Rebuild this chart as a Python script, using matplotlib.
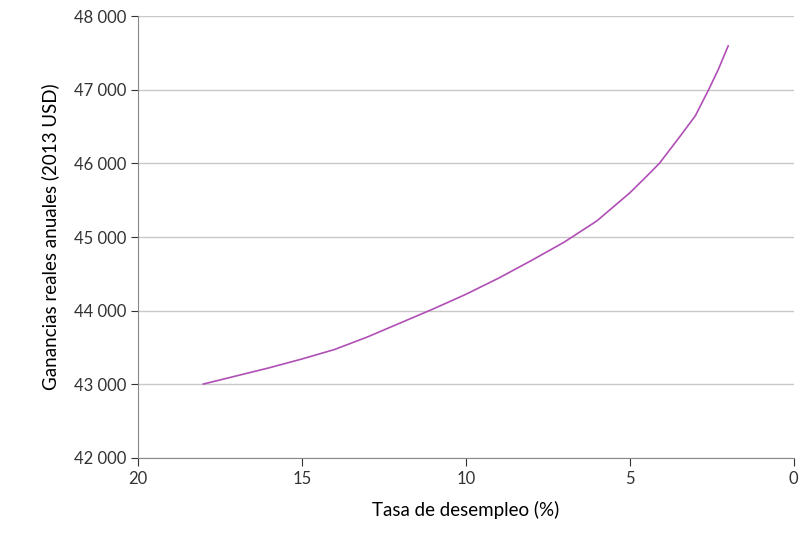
import matplotlib.pyplot as plt
import numpy as np

unemployment = [18.0, 17.0, 16.0, 15.0, 14.0, 13.0, 12.0, 11.0, 10.0, 9.0, 8.0, 7.0,
                6.0, 5.0, 4.5, 4.1, 3.5, 3.0, 2.6, 2.3, 2.0]
earnings = [43000, 43110, 43220, 43340, 43470, 43640, 43830, 44020, 44220, 44440, 44680, 44930,
            45220, 45600, 45820, 46000, 46350, 46650, 47000, 47280, 47600]

plt.rcParams['font.family'] = ['Lato', 'DejaVu Sans']
fig, ax = plt.subplots(figsize=(8.1, 5.48), dpi=100)
fig.subplots_adjust(left=0.17, right=0.98, top=0.97, bottom=0.165)

ax.plot(unemployment, earnings, color='#b04fb5', lw=1.2)

ax.set_xlim(20, 0)
ax.set_ylim(42000, 48000)
ax.set_xticks([20, 15, 10, 5, 0])
yt = np.arange(42000, 48001, 1000)
ax.set_yticks(yt)
ax.set_yticklabels([f"{v // 1000} {v % 1000:03d}" for v in yt])
ax.grid(axis='y', color='#c8c8c8', lw=1)
ax.set_axisbelow(True)
for s in ['top', 'right']:
    ax.spines[s].set_visible(False)
ax.spines['left'].set_color('#888888')
ax.spines['bottom'].set_color('#888888')
ax.tick_params(colors='#333333', labelsize=12, length=5)
ax.tick_params(axis='x', direction='out', length=6)
ax.set_xlabel('Tasa de desempleo (%)', fontsize=13.5, labelpad=10)
ax.set_ylabel('Ganancias reales anuales (2013 USD)', fontsize=13.5, labelpad=10)

fig.savefig('out.png')
